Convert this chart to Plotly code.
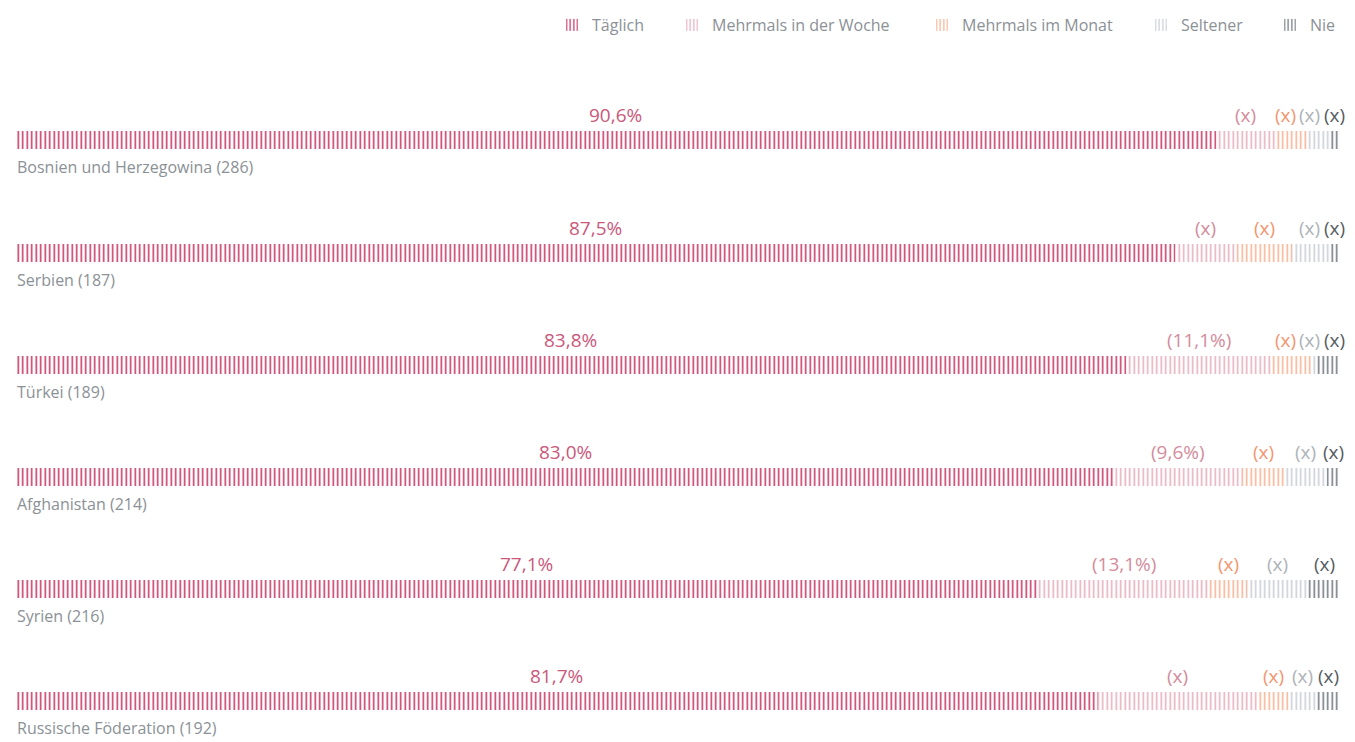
import plotly.graph_objects as go

countries = ["Bosnien und Herzegowina (286)", "Serbien (187)", "Türkei (189)",
             "Afghanistan (214)", "Syrien (216)", "Russische Föderation (192)"]
categories = ["Täglich", "Mehrmals in der Woche", "Mehrmals im Monat", "Seltener", "Nie"]

taeglich = [90.6, 87.5, 83.8, 83.0, 77.1, 81.7]
woche = [4.6, 4.7, 11.1, 9.6, 13.1, 12.1]
monat = [2.3, 4.2, 2.9, 3.2, 2.8, 2.3]
seltener = [1.7, 2.8, 0.4, 3.2, 4.6, 2.2]
nie = [0.8, 0.8, 1.8, 1.0, 2.4, 1.7]

labels_taeglich = ["90,6%", "87,5%", "83,8%", "83,0%", "77,1%", "81,7%"]
labels_woche = ["(x)", "(x)", "(11,1%)", "(9,6%)", "(13,1%)", "(x)"]
labels_monat = ["(x)"] * 6
labels_seltener = ["(x)"] * 6
labels_nie = ["(x)"] * 6

series = [taeglich, woche, monat, seltener, nie]
series_labels = [labels_taeglich, labels_woche, labels_monat, labels_seltener, labels_nie]

stripe_colors = ["#c8325f", "#e6aebb", "#f8b190", "#c9ced4", "#6f767c"]
text_colors = ["#c9587b", "#d38c9c", "#f3966f", "#aeb3b8", "#555c62"]

FONT = "Open Sans"
# page offset of the figure inside the page
OFF_X, OFF_Y = 8, 11
W, H = 1355 - OFF_X, 742 - OFF_Y
PLOT_L, PLOT_R = 16, 1340          # page pixels of the 0..100 range
PLOT_T, PLOT_B = 80, 742
ML = PLOT_L - OFF_X
MR = W - (PLOT_R - OFF_X)
MT = PLOT_T - OFF_Y
MB = 0
plot_w = PLOT_R - PLOT_L
plot_h = PLOT_B - PLOT_T
px_per_unit = plot_w / 100.0
ROW_PX = 113.6
ROW0_Y = 136
RIGHT_LIMIT = 1346 - PLOT_L        # visible right edge for labels (plot px)

rows = list(range(len(countries)))

# legend swatch left edges (page px)
legend_x_px = [563, 683, 933, 1152, 1281]
legend_names = ["legend", "legend2", "legend3", "legend4", "legend5"]

fig = go.Figure()
for k, (name, vals) in enumerate(zip(categories, series)):
    fig.add_trace(go.Bar(
        y=rows, x=vals, name=name, orientation="h", width=0.16,
        legend=legend_names[k],
        marker=dict(
            color=stripe_colors[k],
            line=dict(width=0),
            pattern=dict(shape="|", fgcolor=stripe_colors[k], bgcolor="white",
                         size=4.5, solidity=0.34, fillmode="replace"),
        ),
        hoverinfo="skip",
    ))

annotations = []
for i in rows:
    cum = 0.0
    centers = []
    for k in range(len(series)):
        v = series[k][i]
        centers.append(cum + v / 2.0)
        cum += v
    texts = [series_labels[k][i] for k in range(len(series))]
    widths = [len(t) * 7.8 for t in texts]
    pos = [c * px_per_unit for c in centers]
    n = len(pos)
    for k in range(1, n):
        need = (widths[k - 1] + widths[k]) / 2.0 + 1
        if pos[k] - pos[k - 1] < need:
            pos[k] = pos[k - 1] + need
    if pos[-1] + widths[-1] / 2.0 > RIGHT_LIMIT:
        pos[-1] = RIGHT_LIMIT - widths[-1] / 2.0
        for k in range(n - 2, -1, -1):
            need = (widths[k] + widths[k + 1]) / 2.0 + 1
            if pos[k + 1] - pos[k] < need:
                pos[k] = pos[k + 1] - need
    for k in range(n):
        annotations.append(dict(
            x=pos[k] / plot_w, y=i, xref="paper", yref="y",
            text=texts[k], showarrow=False, yshift=25,
            xanchor="center", yanchor="middle",
            font=dict(family=FONT, size=19, color=text_colors[k]),
        ))
    annotations.append(dict(
        x=-1.5 / plot_w, y=i, xref="paper", yref="y", text=countries[i], showarrow=False,
        yshift=-27, xanchor="left", yanchor="middle",
        font=dict(family=FONT, size=16, color="#8b9196"),
    ))

layout_legends = {}
for k, ln in enumerate(legend_names):
    layout_legends[ln] = dict(
        orientation="h",
        x=(legend_x_px[k] - 11 - PLOT_L) / plot_w, xanchor="left",
        y=1 + (PLOT_T - 19) / plot_h, yanchor="middle",
        font=dict(family=FONT, size=16, color="#8b9196"),
        itemwidth=30, bgcolor="rgba(0,0,0,0)",
    )

fig.update_layout(
    width=W, height=H,
    margin=dict(l=ML, r=MR, t=MT, b=MB),
    barmode="stack",
    plot_bgcolor="white", paper_bgcolor="white",
    xaxis=dict(range=[0, 100], visible=False, fixedrange=True),
    yaxis=dict(range=[5 + (PLOT_B - (ROW0_Y + 5 * ROW_PX)) / ROW_PX, -(ROW0_Y - PLOT_T) / ROW_PX],
               visible=False, fixedrange=True),
    showlegend=True,
    annotations=annotations,
    font=dict(family=FONT),
    **layout_legends,
)

fig.write_html("out.html")
